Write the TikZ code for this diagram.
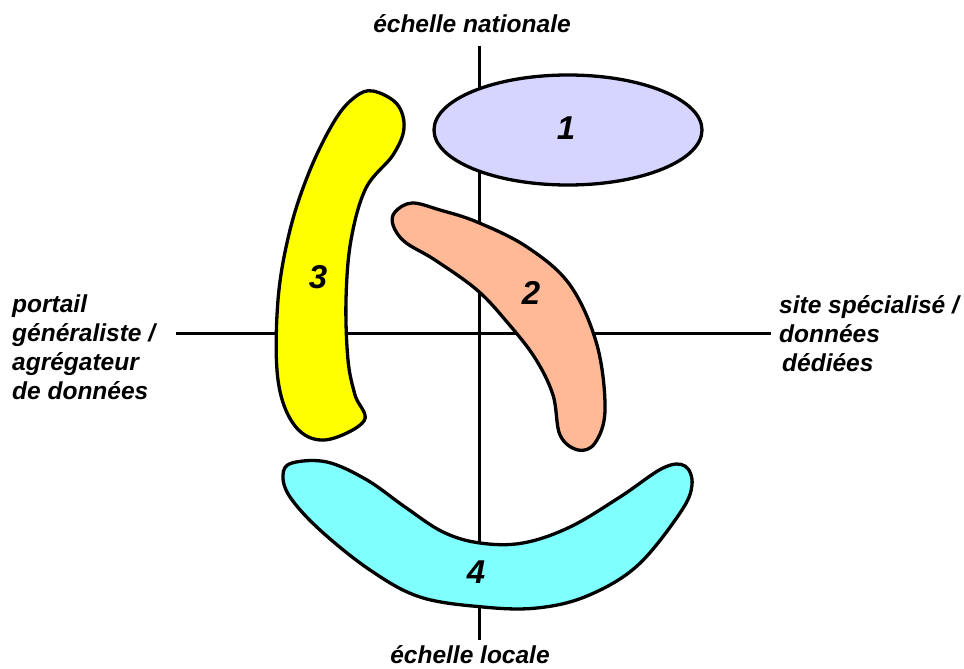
\documentclass[tikz,border=0pt]{standalone}
\usepackage{fontspec}
\setmainfont{Liberation Sans}
\begin{document}
\begin{tikzpicture}[x=1pt,y=-1pt,
  axis/.style={line width=3pt},
  blob/.style={draw=black, line width=3.3pt, line join=round},
  lbl/.style={font=\fontsize{24.5}{29}\selectfont\bfseries\itshape, inner sep=0pt},
  num/.style={font=\fontsize{33}{36}\selectfont\bfseries\itshape, inner sep=0pt}]
\definecolor{lav}{RGB}{213,213,255}
\definecolor{salmon}{RGB}{255,185,150}
\definecolor{yel}{RGB}{255,255,0}
\definecolor{cyanb}{RGB}{128,255,255}
\useasboundingbox (0,0) rectangle (964,669);
% axes
\coordinate (L) at (176,333);
\coordinate (R) at (771,333);
\coordinate (T) at (479,46);
\coordinate (B) at (479,640);
\draw[axis] (L) -- (R);
\draw[axis] (T) -- (B);
% 1
\draw[blob, fill=lav] (568,130) ellipse [x radius=134, y radius=55];
\node[num] (n1) at (566,128) {1};
% 3
\draw[blob, fill=yel] plot[smooth cycle, tension=0.6] coordinates {
 (373,91) (397,104) (404,128) (393,155) (366,188) (351,240) (346,300) (348,360) (355,395) (364,421) (325,440) (295,426) (278,380) (278,300) (290,230) (310,170) (335,120) (355,97)};
\node[num] (n3) at (318,277) {3};
% 2
\draw[blob, fill=salmon] plot[smooth cycle, tension=0.6] coordinates {
 (395,212) (412,203) (440,210) (477,222) (527,247) (570,285) (597,345) (605,410) (595,443) (578,450) (560,435) (553,395) (535,358) (507,322) (477,290) (435,260) (405,242) (393,225)};
\node[num] (n2) at (531,293) {2};
% 4
\draw[blob, fill=cyanb] plot[smooth cycle, tension=0.6] coordinates {
 (292,463) (327,462) (367,480) (405,507) (443,532) (480,543) (523,543) (570,527) (620,497) (663,468) (685,466) (692,485) (680,513) (637,566) (587,596) (537,608) (483,607) (420,597) (370,570) (320,530) (290,497) (283,475)};
\node[num] (n4) at (476,572) {4};
% labels
\node[lbl] (top) at (472,24) {échelle nationale};
\node[lbl] (bot) at (470,655) {échelle locale};
\node[lbl, anchor=north west, align=left] (left) at (12,295) {portail\\généraliste /\\agrégateur\\de données};
\node[lbl, anchor=north west, align=left] (right) at (779,295) {site spécialisé /\\données\\\hspace*{3pt}dédiées};
\end{tikzpicture}
\end{document}
